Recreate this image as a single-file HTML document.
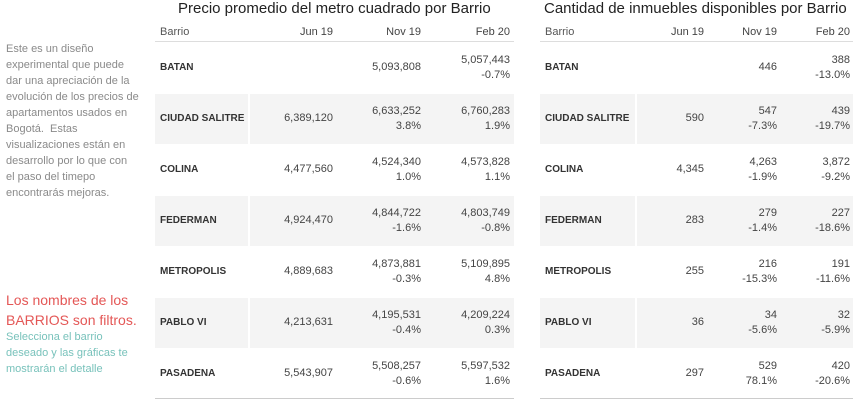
<!DOCTYPE html>
<html><head><meta charset="utf-8">
<style>
body{margin:0;width:861px;height:408px;background:#fff;position:relative;overflow:hidden;font-family:"Liberation Sans",sans-serif;}
.a{position:absolute;white-space:nowrap;}
.t{font-size:15px;color:#222;}
.h{font-size:11px;color:#555;}
.v{font-size:11px;color:#444;text-align:right;line-height:15px;}
.b{font-size:10px;color:#333;font-weight:bold;}
.side{position:absolute;left:6px;font-size:11px;line-height:16px;color:#8a8a8a;white-space:nowrap;}
</style></head><body>
<div class="side" style="top:41px">Este es un diseño<br>experimental que puede<br>dar una apreciación de la<br>evolución de los precios de<br>apartamentos usados en<br>Bogotá.&nbsp; Estas<br>visualizaciones están en<br>desarrollo por lo que con<br>el paso del timepo<br>encontrarás mejoras.</div>
<div class="side" style="top:290px;font-size:14px;line-height:20px;color:#e45756">Los nombres de los<br>BARRIOS son filtros.</div>
<div class="side" style="top:329px;color:#78c2bb">Selecciona el barrio<br>deseado y las gráficas te<br>mostrarán el detalle</div>
<div id="root"></div>
<script>
const barrios=["BATAN","CIUDAD SALITRE","COLINA","FEDERMAN","METROPOLIS","PABLO VI","PASADENA"];
const periods=["Jun 19","Nov 19","Feb 20"];
const priceJun=[null,"6,389,120","4,477,560","4,924,470","4,889,683","4,213,631","5,543,907"];
const priceNov=["5,093,808","6,633,252","4,524,340","4,844,722","4,873,881","4,195,531","5,508,257"];
const priceNovPct=[null,"3.8%","1.0%","-1.6%","-0.3%","-0.4%","-0.6%"];
const priceFeb=["5,057,443","6,760,283","4,573,828","4,803,749","5,109,895","4,209,224","5,597,532"];
const priceFebPct=["-0.7%","1.9%","1.1%","-0.8%","4.8%","0.3%","1.6%"];
const cntJun=[null,"590","4,345","283","255","36","297"];
const cntNov=["446","547","4,263","279","216","34","529"];
const cntNovPct=[null,"-7.3%","-1.9%","-1.4%","-15.3%","-5.6%","78.1%"];
const cntFeb=["388","439","3,872","227","191","32","420"];
const cntFebPct=["-13.0%","-19.7%","-9.2%","-18.6%","-11.6%","-5.9%","-20.6%"];

const root=document.getElementById('root');
function el(cls,x,y,txt,style){const d=document.createElement('div');d.className='a '+cls;d.style.left=x+'px';d.style.top=y+'px';if(style)d.style.cssText+=style;d.innerHTML=txt;root.appendChild(d);return d;}
function table(name,title,titleX,x0,x1,sep,cols,jun,nov,novP,feb,febP){
  const t=el('t',titleX,0,title);
  
  
  const hb=el('h',x0+5,26,'Barrio');
  
  
  periods.forEach((p,i)=>{const h=el('h v',cols[i]-60,26,p,'width:60px;line-height:13px');
    
    });
  const ln=el('',x0,41,'','width:'+(x1-x0)+'px;height:1px;background:#ddd');
  
  
  const rowH=51,top=43;
  barrios.forEach((b,i)=>{
    const y=top+i*rowH;
    const r=el('',x0,y,'','width:'+(x1-x0)+'px;height:'+(rowH-1)+'px;background:'+(i%2?'#f4f4f4':'#fff'));
    
    
    if(i%2){const s=el('',sep,y,'','width:2px;height:'+(rowH-1)+'px;background:#fff');
      
      }
    const lb=el('b',x0+5,y+19,b);
    
    
    lb.style.cursor='pointer';
    const cells=[[jun[i],null],[nov[i],novP[i]],[feb[i],febP[i]]];
    cells.forEach((c,j)=>{
      if(!c[0])return;
      const txt=c[1]?c[0]+'<br>'+c[1]:c[0];
      const yy=c[1]?y+10:y+17;
      const d=el('v',cols[j]-80,yy,txt,'width:80px');
      
      
    });
  });
  const bl=el('',x0,398,'','width:'+(x1-x0)+'px;height:1px;background:#ccc');
  
  
}
table('price-table','Precio promedio del metro cuadrado por Barrio',178,155,514,248,[333,421,510],priceJun,priceNov,priceNovPct,priceFeb,priceFebPct);
table('count-table','Cantidad de inmuebles disponibles por Barrio',544,540,853,635,[704,777,850],cntJun,cntNov,cntNovPct,cntFeb,cntFebPct);
</script>
</body></html>
